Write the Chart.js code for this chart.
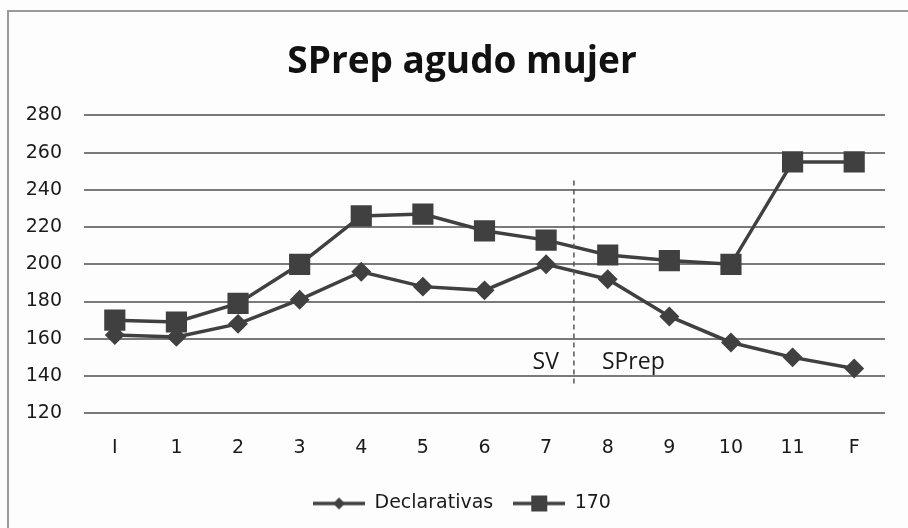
<!DOCTYPE html>
<html>
<head>
<meta charset="utf-8">
<script src="https://cdn.jsdelivr.net/npm/chart.js@4"></script>
<style>
  html, body { margin: 0; padding: 0; background: #fdfdfd; overflow: hidden; }
  #frame { position: absolute; left: 7px; top: 10px; width: 1000px; height: 1000px; border: 2px solid #9a9a9a; }
  #wrap { position: absolute; left: 0; top: 0; width: 908px; height: 528px; }
</style>
</head>
<body>
<div id="frame"></div>
<div id="wrap"><canvas id="lineChart"></canvas></div>
<script>
const categories = ['I', '1', '2', '3', '4', '5', '6', '7', '8', '9', '10', '11', 'F'];
const declarativas = [162, 161, 168, 181, 196, 188, 186, 200, 192, 172, 158, 150, 144];
const serie170 = [170, 169, 179, 200, 226, 227, 218, 213, 205, 202, 200, 255, 255];
const yTicks = [120, 140, 160, 180, 200, 220, 240, 260, 280];

// where the SV / SPrep split sits (between categories 7 and 8)
const splitAfter = 7;
const splitTop = 245;
const splitBottom = 136;
const splitLabelValue = 147;

const lineColor = '#404040';

function legendIcon(style) {
  const c = document.createElement('canvas');
  c.width = 52;
  c.height = 18;
  const g = c.getContext('2d');
  g.strokeStyle = lineColor;
  g.fillStyle = lineColor;
  g.lineWidth = 3.5;
  g.beginPath();
  g.moveTo(0, 9);
  g.lineTo(52, 9);
  g.stroke();
  g.beginPath();
  if (style === 'diamond') {
    g.moveTo(26, 3); g.lineTo(32, 9); g.lineTo(26, 15); g.lineTo(20, 9);
  } else {
    g.rect(18, 1, 16, 16);
  }
  g.closePath();
  g.fill();
  return c;
}

const splitPlugin = {
  id: 'split',
  afterDatasetsDraw(chart) {
    const x = chart.scales.x;
    const y = chart.scales.y;
    const ctx = chart.ctx;
    const px = (x.getPixelForValue(splitAfter) + x.getPixelForValue(splitAfter + 1)) / 2 - 3;
    ctx.save();
    ctx.strokeStyle = '#555';
    ctx.lineWidth = 1.5;
    ctx.setLineDash([5, 4]);
    ctx.beginPath();
    ctx.moveTo(px, y.getPixelForValue(splitTop));
    ctx.lineTo(px, y.getPixelForValue(splitBottom));
    ctx.stroke();
    ctx.setLineDash([]);
    ctx.fillStyle = '#1a1a1a';
    ctx.font = '23px "Open Sans"';
    ctx.textBaseline = 'middle';
    const ty = y.getPixelForValue(splitLabelValue);
    ctx.textAlign = 'right';
    ctx.fillText('SV', px - 15, ty);
    ctx.textAlign = 'left';
    ctx.fillText('SPrep', px + 28, ty);
    ctx.restore();
  }
};

document.addEventListener('DOMContentLoaded', function () {
  const ctx = document.getElementById('lineChart').getContext('2d');
  const icons = [legendIcon('diamond'), legendIcon('square')];

  const data = {
    labels: categories,
    datasets: [
      {
        label: 'Declarativas',
        data: declarativas,
        borderColor: lineColor,
        backgroundColor: lineColor,
        borderWidth: 3.5,
        pointStyle: 'rectRot',
        pointRadius: 7.5,
        tension: 0,
      },
      {
        label: '170',
        data: serie170,
        borderColor: lineColor,
        backgroundColor: lineColor,
        borderWidth: 3.5,
        pointStyle: 'rect',
        pointRadius: 12.5,
        tension: 0,
      },
    ],
  };

  const options = {
    responsive: true,
    maintainAspectRatio: false,
    animation: false,
    layout: { padding: { left: 22, right: 6, top: 0, bottom: 5 } },
    plugins: {
      title: {
        display: true,
        text: 'SPrep agudo mujer',
        color: '#111',
        font: { family: '"Open Sans"', size: 37, weight: 'bold' },
        padding: { top: 40, bottom: 31 },
      },
      legend: {
        position: 'bottom',
        labels: {
          usePointStyle: true,
          pointStyleWidth: 52,
          color: '#1a1a1a',
          font: { family: '"DejaVu Sans"', size: 19 },
          padding: 20,
          generateLabels(chart) {
            const items = Chart.defaults.plugins.legend.labels.generateLabels(chart);
            items.forEach(function (it, i) { it.pointStyle = icons[i]; });
            return items;
          },
        },
      },
      tooltip: { enabled: false },
    },
    scales: {
      x: {
        offset: true,
        grid: { display: false },
        border: { display: false },
        ticks: { color: '#1a1a1a', font: { family: '"DejaVu Sans"', size: 19 }, padding: 15 },
      },
      y: {
        min: 120,
        max: 280,
        afterBuildTicks(axis) { axis.ticks = yTicks.map(function (v) { return { value: v }; }); },
        afterFit(axis) { axis.width = 62; },
        grid: { color: '#7a7a7a', lineWidth: 2, drawTicks: false },
        border: { display: false },
        ticks: { color: '#1a1a1a', font: { family: '"DejaVu Sans"', size: 19 }, padding: 22 },
      },
      // empty right margin so title and legend centre like the original
      yRight: {
        position: 'right',
        min: 120,
        max: 280,
        afterFit(axis) { axis.width = 17; },
        grid: { display: false },
        border: { display: false },
        ticks: { display: false },
      },
    },
  };

  new Chart(ctx, {
    type: 'line',
    data: data,
    options: options,
    plugins: [splitPlugin],
  });
});
</script>
</body>
</html>
